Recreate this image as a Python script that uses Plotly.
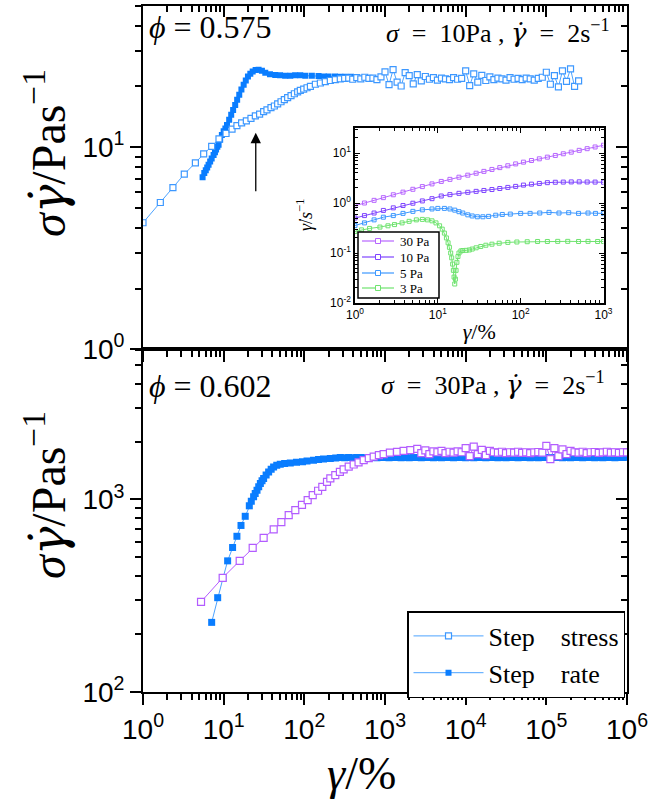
import math
import plotly.graph_objects as go

# ---------------- data ----------------
# top panel, phi = 0.575 : step stress (sigma = 10 Pa)
top_stress_x = [1, 1.64, 2.35, 3.25, 4.46, 5.65, 7.1, 8.75, 10.7, 12.7, 14.6, 16.7, 19.1, 21.8,
                24.7, 27.9, 31.3, 34.4, 38.6, 42.5, 46.7, 51.4, 56.5, 62.1, 68.4, 75.2, 82.6,
                89.2, 98.1, 108, 119, 137, 158, 182, 210, 242, 279,
                316, 355, 398, 447, 501, 562, 631, 708, 794, 891, 1000, 1122, 1259, 1413, 1585,
                1778, 1995, 2239, 2512, 2818, 3162, 3548, 3981, 4467, 5012, 5623, 6310, 7079,
                7943, 8913, 10000, 11220, 12589, 14125, 15849, 17783, 19953, 22387, 25119,
                28184, 31623, 35481, 39811, 44668, 50119, 56234, 63096, 70795, 79433, 89125,
                100000, 112202, 125893, 141254, 158489, 177828, 199526, 223872, 251189]
top_stress_y = [4.23, 5.33, 6.32, 7.36, 8.37, 9.27, 10.1, 11.0, 11.7, 12.3, 12.8, 13.2, 13.5, 13.9,
                14.3, 14.6, 15.0, 15.3, 15.7, 16.0, 16.4, 16.8, 17.2, 17.6, 18.0, 18.4, 18.8,
                19.1, 19.4, 19.7, 20.0, 20.5, 20.8, 21.1, 21.4, 21.6, 21.8,
                21.9, 22.0, 21.7, 22.1, 21.8, 22.2, 21.9, 22.0, 21.6, 22.3, 23.6, 20.4, 24.2,
                21.0, 20.1, 23.4, 22.6, 20.6, 22.9, 21.3, 22.4, 21.7, 22.1, 21.5, 22.0, 21.8,
                21.6, 22.1, 21.7, 21.9, 23.9, 20.2, 23.1, 21.0, 22.7, 21.4, 22.3, 21.6, 22.0,
                21.8, 21.5, 22.1, 21.7, 21.9, 21.6, 22.0, 21.8, 21.5, 21.9, 22.2, 23.5, 20.5,
                22.6, 19.9, 23.9, 21.2, 24.4, 20.0, 21.3]

# top panel : step rate (2 s^-1)
top_rate_x = [5.48, 5.75, 6.0, 6.25, 6.5, 6.8, 7.1, 7.5, 7.8, 8.05, 8.35, 8.65, 9.05, 9.5, 10.0,
              10.5, 11.0, 11.7, 12.4, 13.1, 13.9, 14.7, 15.6, 16.6, 17.7, 18.8, 20.0, 21.4,
              22.9, 24.9, 27.1, 29.8, 32.8, 37.5, 43.6, 50, 58, 67, 77, 89, 103, 124, 150,
              175, 200, 240, 280, 322, 380, 450]
top_rate_y = [7.1, 7.45, 7.7, 7.95, 8.2, 8.5, 8.8, 9.15, 9.45, 9.75, 10.05, 10.3, 10.9, 11.5,
              12.0, 12.4, 12.9, 13.7, 14.5, 15.3, 16.2, 17.2, 18.2, 19.3, 20.4, 21.4, 22.4,
              23.1, 23.7, 24.1, 24.2, 23.9, 23.4, 23.0, 22.8, 22.7, 22.6, 22.6, 22.7, 22.7,
              22.6, 22.6, 22.5, 22.4, 22.4, 22.4, 22.3, 22.3, 22.3, 22.2]

# bottom panel, phi = 0.602 : step stress (sigma = 30 Pa)
bot_stress_x = [5.24, 9.72, 15.8, 22.9, 31.3, 41.7, 51.9, 64, 77.3, 93.5, 110, 127, 148, 167,
                191, 210, 242, 276, 307, 355, 409, 470, 544, 630, 724, 840, 962, 1150, 1409,
                1700, 2061,
                2512, 2818, 3162, 3548, 3981, 4467, 5012, 5623, 6310, 7079, 7943, 8913, 10000,
                11220, 12589, 14125, 15849, 17783, 19953, 22387, 25119, 28184, 31623, 35481,
                39811, 44668, 50119, 56234, 63096, 70795, 79433, 89125, 100000, 112202, 125893,
                141254, 158489, 177828, 199526, 223872, 251189, 281838, 316228, 354813,
                398107, 446684, 501187, 562341, 630957, 707946, 794328, 891251, 1000000]
bot_stress_y = [294, 392, 480, 561, 632, 699, 763, 829, 881, 938, 993, 1054, 1110, 1164,
                1236, 1286, 1339, 1390, 1435, 1480, 1520, 1560, 1600, 1640, 1670, 1700, 1720,
                1750, 1769, 1790, 1804,
                1830, 1740, 1800, 1720, 1780, 1760, 1790, 1740, 1770, 1750, 1780, 1760, 1850,
                1680, 1880, 1720, 1810, 1700, 1790, 1760, 1750, 1770, 1740, 1760, 1750, 1770,
                1745, 1760, 1740, 1755, 1765, 1750, 1900, 1620, 1850, 1680, 1820, 1720, 1790,
                1760, 1750, 1770, 1740, 1760, 1765, 1745, 1755, 1770, 1750, 1760, 1745, 1760,
                1755]

# bottom panel : step rate
bot_rate_x = [7.1, 8.43, 9.8, 11.2, 12.9, 14.6, 16.4, 18.5, 20.8, 22.0, 23.5, 24.6, 25.9, 27.2,
              28.5, 29.9, 31.3, 33.6, 36.1, 38.8, 41.6, 45.5, 50.3, 57, 67, 80, 95, 108, 130,
              150, 173, 210, 245, 279,
              316, 355, 398, 447, 501, 562, 631, 708, 794, 891, 1000, 1122, 1259, 1413, 1585,
              1778, 1995, 2239, 2512, 2818, 3162, 3548, 3981, 4467, 5012, 5623, 6310, 7079,
              7943, 8913, 10000, 11220, 12589, 14125, 15849, 17783, 19953, 22387, 25119,
              28184, 31623, 35481, 39811, 44668, 50119, 56234, 63096, 70795, 79433, 89125,
              100000, 112202, 125893, 141254, 158489, 177828, 199526, 223872, 251189, 281838,
              316228, 354813, 398107, 446684, 501187, 562341, 630957, 707946, 794328, 891251,
              1000000]
bot_rate_y = [230, 309, 390, 480, 563, 644, 733, 818, 927, 980, 1032, 1075, 1118, 1165,
              1211, 1250, 1285, 1340, 1391, 1435, 1476, 1505, 1524, 1538, 1549, 1560, 1572,
              1587, 1600, 1612, 1623, 1635, 1643, 1651,
              1650, 1651, 1650, 1652, 1651, 1650, 1652, 1651, 1650, 1651, 1652, 1650, 1651,
              1652, 1650, 1651, 1650, 1652, 1651, 1650, 1651, 1652, 1650, 1651, 1650, 1652,
              1651, 1650, 1651, 1652, 1650, 1651, 1650, 1652, 1651, 1650, 1651, 1652, 1650,
              1651, 1650, 1652, 1651, 1650, 1651, 1652, 1650, 1651, 1650, 1652, 1651, 1650,
              1651, 1652, 1650, 1651, 1650, 1652, 1651, 1650, 1651, 1652, 1650, 1651, 1650,
              1652, 1651, 1650, 1651, 1652, 1655]

# inset : shear rate vs strain for several stresses
inset_x_30 = [1, 1.3, 1.7, 2.2, 2.9, 3.8, 5, 6.5, 8.5, 11, 14, 18, 23, 29, 36, 45, 56, 70, 87,
              108, 135, 168, 210, 262, 327, 408, 509, 635, 792, 1000]
inset_y_30 = [0.88, 1.0, 1.13, 1.28, 1.46, 1.65, 1.88, 2.13, 2.41, 2.70, 2.97, 3.28, 3.60,
              3.94, 4.29, 4.69, 5.10, 5.56, 6.05, 6.56, 7.08, 7.65, 8.26, 8.93, 9.65, 10.4,
              11.3, 12.2, 13.2, 14.3]
inset_x_10 = [1, 1.3, 1.7, 2.2, 2.9, 3.8, 5, 6.5, 8.5, 11, 14, 18, 23, 29, 36, 45, 56, 70, 87,
              108, 135, 168, 210, 262, 327, 408, 509, 635, 792, 1000]
inset_y_10 = [0.50, 0.56, 0.63, 0.71, 0.80, 0.89, 0.99, 1.10, 1.22, 1.38, 1.47, 1.56, 1.64,
              1.71, 1.78, 1.86, 1.95, 2.05, 2.15, 2.28, 2.38, 2.46, 2.55, 2.60, 2.62, 2.64,
              2.65, 2.63, 2.62, 2.60]
inset_x_5 = [1, 1.3, 1.7, 2.2, 2.9, 3.8, 5, 6.5, 8.5, 10, 12, 14, 16, 18, 20, 23, 26, 30, 35,
             41, 50, 60, 75, 100, 130, 170, 220, 290, 380, 500, 650, 800, 1000]
inset_y_5 = [0.355, 0.40, 0.46, 0.52, 0.56, 0.62, 0.68, 0.73, 0.76, 0.78, 0.78, 0.76, 0.72,
             0.67, 0.63, 0.58, 0.55, 0.53, 0.53, 0.54, 0.57, 0.59, 0.60, 0.62, 0.62, 0.63,
             0.65, 0.63, 0.64, 0.62, 0.63, 0.62, 0.62]
inset_x_3 = [1, 1.2, 1.5, 2, 2.5, 3, 3.7, 4.5, 5.5, 6.5, 7.5, 8.5, 9.5, 10.5, 11.3, 12, 12.7,
             13.3, 13.8, 14.3, 14.7, 15.1, 15.4, 15.7, 16, 16.3, 16.6, 17, 17.5, 18, 19, 20,
             22, 24, 26, 29, 33, 38, 45, 55, 70, 90, 120, 160, 210, 280, 370, 500, 650, 850,
             1000]
inset_y_3 = [0.27, 0.29, 0.31, 0.33, 0.35, 0.37, 0.40, 0.43, 0.46, 0.47, 0.46, 0.44, 0.40,
             0.35, 0.30, 0.25, 0.20, 0.16, 0.13, 0.10, 0.08, 0.06, 0.045, 0.033, 0.024, 0.03,
             0.045, 0.065, 0.085, 0.10, 0.11, 0.112, 0.113, 0.115, 0.12, 0.127, 0.135, 0.143,
             0.150, 0.157, 0.163, 0.166, 0.168, 0.170, 0.170, 0.171, 0.171, 0.170, 0.171,
             0.170, 0.170]
inset_names = ["30 Pa", "10 Pa", "5 Pa", "3 Pa"]

# tick labels
x_tickvals = [1, 10, 100, 1000, 10000, 100000, 1000000]
x_ticktext = ["10<sup>0</sup>", "10<sup>1</sup>", "10<sup>2</sup>", "10<sup>3</sup>",
              "10<sup>4</sup>", "10<sup>5</sup>", "10<sup>6</sup>"]
top_y_tickvals = [1, 10]
top_y_ticktext = ["10<sup>0</sup>", "10<sup>1</sup>"]
bot_y_tickvals = [100, 1000]
bot_y_ticktext = ["10<sup>2</sup>", "10<sup>3</sup>"]
inset_x_tickvals = [1, 10, 100, 1000]
inset_x_ticktext = ["10<sup>0</sup>", "10<sup>1</sup>", "10<sup>2</sup>", "10<sup>3</sup>"]
inset_y_tickvals = [0.01, 0.1, 1, 10]
inset_y_ticktext = ["10<sup>-2</sup>", "10<sup>-1</sup>", "10<sup>0</sup>", "10<sup>1</sup>"]

# arrow target (data units, top panel)
arrow_x = 25.0
arrow_y = 11.8

# ---------------- styling ----------------
C_OPEN = "#3d98ff"
C_FILL = "#0a7dff"
C_LINE = "#4da3ff"
C_VIOLET = "#b35cff"
C_30 = "#b766ff"
C_10 = "#7f45ff"
C_5 = "#3d98ff"
C_3 = "#6fe36f"
inset_colors = [C_30, C_10, C_5, C_3]
SERIF = "Liberation Serif"
SANS = "Liberation Sans"
NB = "\u00a0"
GDOT = '<span style="font-family:DejaVu Serif">γ̇</span>'

W, H = 671, 799
ML, MR, MT, MB = 143, 44, 6, 107
PW, PH = W - ML - MR, H - MT - MB


def px(x):
    return (x - ML) / PW


def py(y):
    return (H - MB - y) / PH


fig = go.Figure()

# top panel
fig.add_trace(go.Scatter(x=top_rate_x, y=top_rate_y, xaxis="x2", yaxis="y2", mode="lines+markers",
                         name="Step" + NB * 4 + "rate", legendrank=2,
                         line=dict(color=C_LINE, width=1),
                         marker=dict(symbol="square", size=6, color=C_FILL, line=dict(width=0))))
fig.add_trace(go.Scatter(x=top_stress_x, y=top_stress_y, xaxis="x2", yaxis="y2", mode="lines+markers",
                         name="Step" + NB * 4 + "stress", legendrank=1,
                         line=dict(color=C_LINE, width=1),
                         marker=dict(symbol="square", size=6, color="white",
                                     line=dict(color=C_OPEN, width=1.2))))
# bottom panel
fig.add_trace(go.Scatter(x=bot_rate_x, y=bot_rate_y, xaxis="x", yaxis="y", mode="lines+markers",
                         showlegend=False, line=dict(color=C_LINE, width=1),
                         marker=dict(symbol="square", size=7, color=C_FILL, line=dict(width=0))))
fig.add_trace(go.Scatter(x=bot_stress_x, y=bot_stress_y, xaxis="x", yaxis="y", mode="lines+markers",
                         showlegend=False, line=dict(color=C_VIOLET, width=1),
                         marker=dict(symbol="square", size=7, color="white",
                                     line=dict(color=C_VIOLET, width=1.2))))
# inset
for xs, ys, col, nm in zip([inset_x_30, inset_x_10, inset_x_5, inset_x_3],
                           [inset_y_30, inset_y_10, inset_y_5, inset_y_3],
                           inset_colors, inset_names):
    fig.add_trace(go.Scatter(x=xs, y=ys, xaxis="x3", yaxis="y3", mode="lines+markers",
                             name=nm, showlegend=False,
                             line=dict(color=col, width=1),
                             marker=dict(symbol="square-open", size=4, color=col,
                                         line=dict(color=col, width=1))))

# dummy traces for the mirrored (inside) tick axes
fig.add_trace(go.Scatter(x=[None], y=[None], xaxis="x2", yaxis="y4", showlegend=False, hoverinfo="skip"))
fig.add_trace(go.Scatter(x=[None], y=[None], xaxis="x", yaxis="y5", showlegend=False, hoverinfo="skip"))
fig.add_trace(go.Scatter(x=[None], y=[None], xaxis="x4", yaxis="y2", showlegend=False, hoverinfo="skip"))

SPLIT = 0.4995
tickfont = dict(family=SANS, size=28, color="black")
minor_out = dict(ticks="outside", ticklen=6, tickwidth=1.5, tickcolor="black", dtick="D1", showgrid=False)
minor_in = dict(ticks="inside", ticklen=6, tickwidth=1.5, tickcolor="black", dtick="D1", showgrid=False)

common = dict(type="log", showgrid=False, zeroline=False, showline=True, linecolor="black",
              linewidth=1.8, tickcolor="black", tickwidth=1.5, ticklen=11, automargin=False)
inset_common = dict(type="log", showgrid=False, zeroline=False, showline=True, linecolor="black",
                    linewidth=1.5, mirror="allticks", ticks="inside", ticklen=5, tickwidth=1,
                    tickcolor="black", tickmode="array", automargin=False,
                    tickfont=dict(family=SANS, size=12, color="black"),
                    minor=dict(ticks="inside", ticklen=3, tickwidth=1, tickcolor="black", dtick="D1"))

fig.update_layout(
    width=W, height=H,
    margin=dict(l=ML, r=MR, t=MT, b=MB, autoexpand=False),
    paper_bgcolor="white", plot_bgcolor="white",
    xaxis=dict(**common, domain=[0, 1], anchor="y", range=[0, 6], mirror=True,
               ticks="outside", tickmode="array", tickvals=x_tickvals, ticktext=x_ticktext,
               tickfont=tickfont, minor=minor_out),
    yaxis=dict(**common, domain=[0, SPLIT], anchor="x", range=[2, 3.78], mirror=True,
               ticks="outside", tickmode="array", tickvals=bot_y_tickvals, ticktext=bot_y_ticktext,
               tickfont=tickfont, minor=minor_out),
    xaxis2=dict(**common, domain=[0, 1], anchor="y2", range=[0, 6], mirror=True,
                ticks="outside", tickmode="array", tickvals=x_tickvals, showticklabels=False,
                minor=minor_out),
    yaxis2=dict(**common, domain=[SPLIT, 1], anchor="x2", range=[0, 1.699], mirror=True,
                ticks="outside", tickmode="array", tickvals=top_y_tickvals, ticktext=top_y_ticktext,
                tickfont=tickfont, minor=minor_out),
    xaxis4=dict(**common, overlaying="x2", anchor="y2", side="top", range=[0, 6],
                ticks="inside", tickmode="array", tickvals=x_tickvals, showticklabels=False,
                minor=minor_in),
    yaxis4=dict(**common, overlaying="y2", anchor="x2", side="right", range=[0, 1.699],
                ticks="inside", tickmode="array", tickvals=top_y_tickvals, showticklabels=False,
                minor=minor_in),
    yaxis5=dict(**common, overlaying="y", anchor="x", side="right", range=[2, 3.78],
                ticks="inside", tickmode="array", tickvals=bot_y_tickvals, showticklabels=False,
                minor=minor_in),
    xaxis3=dict(**inset_common, domain=[px(355), px(603.5)], anchor="y3", range=[0, 3],
                tickvals=inset_x_tickvals, ticktext=inset_x_ticktext,
                title=dict(text="<i>γ</i>/%", font=dict(family=SERIF, size=22, color="black"),
                           standoff=2)),
    yaxis3=dict(**inset_common, domain=[py(303), py(128)], anchor="x3", range=[-2, 1.5],
                tickvals=inset_y_tickvals, ticktext=inset_y_ticktext),
    legend=dict(x=px(625), y=py(611), xanchor="right", yanchor="top",
                font=dict(family=SERIF, size=26, color="black"),
                bgcolor="white", bordercolor="black", borderwidth=1.5,
                itemwidth=70, tracegroupgap=0),
    showlegend=True,
)

# inset legend (drawn as a small framed key)
fig.add_shape(type="rect", xref="paper", yref="paper", x0=px(358), x1=px(439),
              y0=py(298), y1=py(232), line=dict(color="black", width=1.5),
              fillcolor="white", layer="above")
row_y = [241, 257, 273, 288]
for nm, col, ry in zip(inset_names, inset_colors, row_y):
    fig.add_shape(type="line", xref="paper", yref="paper", x0=px(362), x1=px(394),
                  y0=py(ry), y1=py(ry), line=dict(color=col, width=1.2), layer="above")
    fig.add_shape(type="rect", xref="paper", yref="paper", x0=px(375.5), x1=px(380.5),
                  y0=py(ry + 2.5), y1=py(ry - 2.5), line=dict(color=col, width=1),
                  fillcolor="white", layer="above")
    fig.add_annotation(text=nm.replace(" ", NB), x=px(398), y=py(ry), xref="paper", yref="paper",
                       showarrow=False, xanchor="left", yanchor="middle",
                       font=dict(family=SERIF, size=13, color="black"))


def ann(text, x, y, size, angle=0, xanchor="center", yanchor="middle", family=SERIF):
    fig.add_annotation(text=text, x=x, y=y, xref="paper", yref="paper", showarrow=False,
                       textangle=angle, xanchor=xanchor, yanchor=yanchor,
                       font=dict(family=family, size=size, color="black"))


ytitle = "<i>σ" + GDOT + "</i>/Pas<sup>−1</sup>"
ann(ytitle, px(45), py(153), 48, angle=-90)
ann(ytitle, px(45), py(495), 48, angle=-90)
ann("<i>γ</i>/%", px(361), py(773), 46)
ann("<i>ϕ</i>" + NB + "=" + NB + "0.575", px(147), py(27), 32, xanchor="left")
ann("<i>σ</i>" + NB * 2 + "=" + NB * 2 + "10Pa" + NB + "," + NB + "<i>" + GDOT + "</i>" + NB * 2 + "=" + NB * 2 + "2s<sup>−1</sup>",
    px(612), py(31), 26, xanchor="right")
ann("<i>ϕ</i>" + NB + "=" + NB + "0.602", px(147), py(386), 32, xanchor="left")
ann("<i>σ</i>" + NB * 2 + "=" + NB * 2 + "30Pa" + NB + "," + NB + "<i>" + GDOT + "</i>" + NB * 2 + "=" + NB * 2 + "2s<sup>−1</sup>",
    px(607), py(383), 26, xanchor="right")
# inset y-axis title
ann("<i>γ̇</i>/<i>s</i><sup>−1</sup>", px(305), py(215), 18, angle=-90)

# arrow pointing at the knee of the step-stress curve
fig.add_annotation(x=math.log10(arrow_x), y=math.log10(arrow_y), xref="x2", yref="y2",
                   ax=0, ay=60, showarrow=True, arrowhead=2, arrowsize=1.6, arrowwidth=1.3,
                   arrowcolor="black", text="")

fig.write_html("out.html", config={"displayModeBar": False},
               post_script="document.body.style.margin='0';")
